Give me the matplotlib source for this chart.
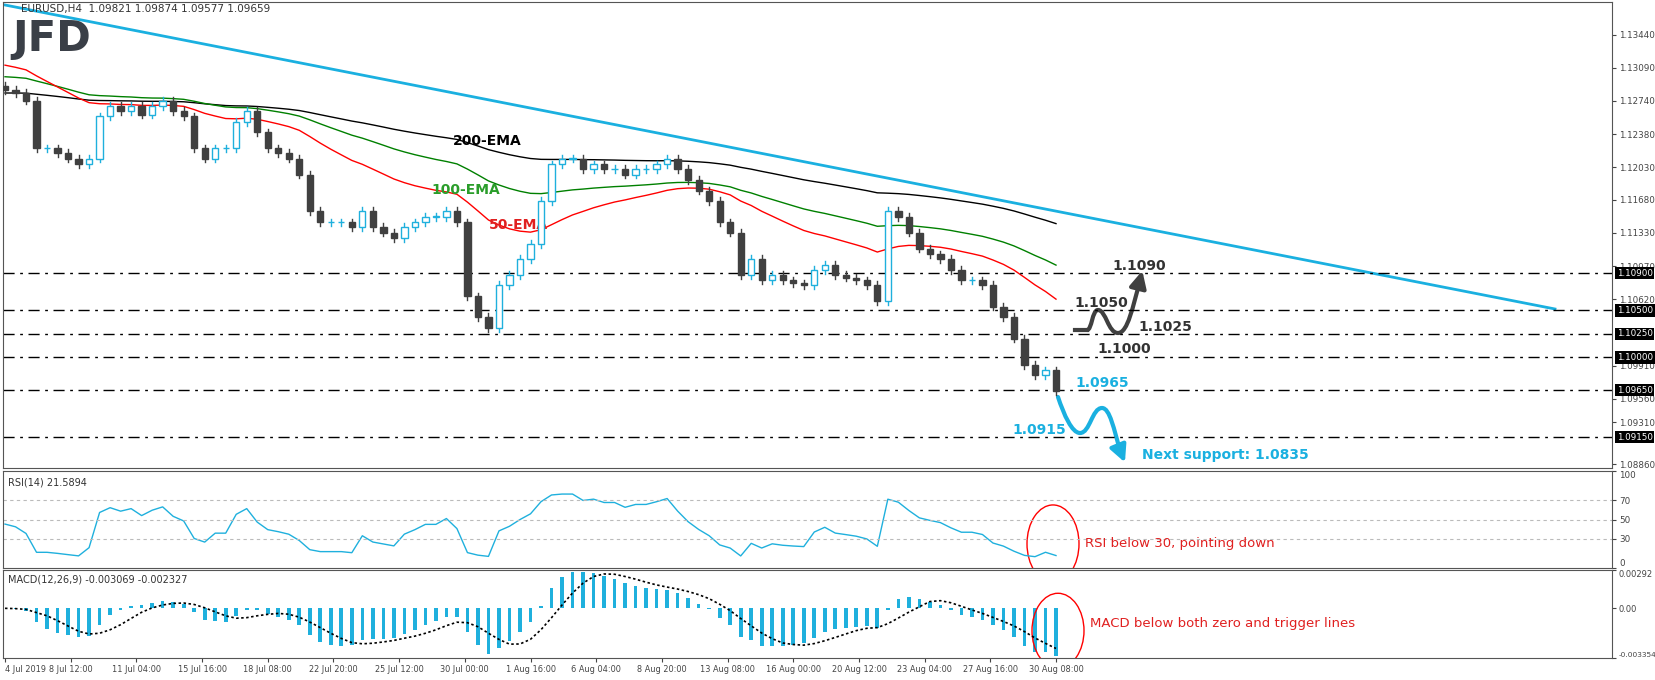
import numpy as np
import pandas as pd
import matplotlib
matplotlib.use('Agg')
import matplotlib.pyplot as plt
from matplotlib.patches import Rectangle, Ellipse, PathPatch
from matplotlib.path import Path

# H4 closes
closes = [1.1285, 1.1282, 1.1274, 1.1223, 1.1223, 1.1218, 1.1212, 1.1206, 1.1212, 1.1257,
          1.1268, 1.1263, 1.1268, 1.1259, 1.1268, 1.1274, 1.1263, 1.1257, 1.1223, 1.1212,
          1.1223, 1.1223, 1.1251, 1.1263, 1.1240, 1.1223, 1.1218, 1.1212, 1.1195, 1.1156,
          1.1144, 1.1144, 1.1144, 1.1139, 1.1156, 1.1139, 1.1133, 1.1127, 1.1139, 1.1144,
          1.1150, 1.1150, 1.1156, 1.1144, 1.1065, 1.1043, 1.1031, 1.1077, 1.1088, 1.1105,
          1.1121, 1.1167, 1.1206, 1.1212, 1.1212, 1.1201, 1.1206, 1.1201, 1.1201, 1.1195,
          1.1201, 1.1201, 1.1206, 1.1212, 1.1201, 1.1189, 1.1178, 1.1167, 1.1144, 1.1133,
          1.1088, 1.1105, 1.1082, 1.1088, 1.1082, 1.1079, 1.1077, 1.1093, 1.1099, 1.1088,
          1.1085, 1.1082, 1.1077, 1.1060, 1.1156, 1.1150, 1.1133, 1.1116, 1.1110, 1.1105,
          1.1093, 1.1082, 1.1082, 1.1077, 1.1054, 1.1043, 1.1020, 1.0992, 1.0981, 1.0986,
          1.0964]
first_open = 1.1290
ema_start = {25: 1.1314, 50: 1.1300, 100: 1.1282}
levels = [1.1090, 1.1050, 1.1025, 1.1000, 1.0965, 1.0915]
price_ticks = [1.13440, 1.13090, 1.12740, 1.12380, 1.12030, 1.11680, 1.11330, 1.10970,
               1.10620, 1.09910, 1.09560, 1.09310, 1.08860]
date_labels = ['4 Jul 2019', '8 Jul 12:00', '11 Jul 04:00', '15 Jul 16:00', '18 Jul 08:00',
               '22 Jul 20:00', '25 Jul 12:00', '30 Jul 00:00', '1 Aug 16:00', '6 Aug 04:00',
               '8 Aug 20:00', '13 Aug 08:00', '16 Aug 00:00', '20 Aug 12:00', '23 Aug 04:00',
               '27 Aug 16:00', '30 Aug 08:00']

c = np.array(closes)
o = np.concatenate([[first_open], c[:-1]])
n = len(c)
wick = 0.0004
hi = np.maximum(o, c) + wick
lo = np.minimum(o, c) - wick

def ema(x, span, start):
    a = 2.0 / (span + 1)
    out = []
    v = start
    for val in x:
        v = a * val + (1 - a) * v
        out.append(v)
    return np.array(out)

ema50 = ema(c, 25, ema_start[25])
ema100 = ema(c, 50, ema_start[50])
ema200 = ema(c, 100, ema_start[100])

# RSI with seeded averages
d = np.diff(np.concatenate([[first_open], c]))
au, ad = 0.0004, 0.0004
rsi = []
for v in d:
    au = (au * 6 + max(v, 0)) / 7
    ad = (ad * 6 + max(-v, 0)) / 7
    rsi.append(100 - 100 / (1 + au / ad))
rsi = np.array(rsi)
s = pd.Series(c)
macd = (s.ewm(span=6, adjust=False).mean() - s.ewm(span=13, adjust=False).mean()).values
sig = pd.Series(macd).rolling(5, min_periods=1).mean().values

# pixel helpers
sp = (1056 - 5) / (n - 1)
def px(x):
    return (x - 5) / sp
def py(y):
    return 1.1090 - (y - 273) * 0.0001067

fig = plt.figure(figsize=(16.55, 6.8), dpi=100)
W, H = 1655, 680
ax = fig.add_axes([3/W, 1-468/H, 1609/W, 466/H])
ax2 = fig.add_axes([3/W, 1-568/H, 1609/W, 97/H])
ax3 = fig.add_axes([3/W, 1-658/H, 1609/W, 88/H])
xl = (px(3), px(1612))
for a in (ax, ax2, ax3):
    a.set_xlim(*xl)
    a.yaxis.tick_right()
    a.tick_params(labelsize=6.3, colors='#444444', length=3, pad=2)
    for sdn in a.spines.values():
        sdn.set_color('#555555')

# candles
for i in range(n):
    bull = c[i] >= o[i]
    col = '#1fb0dd' if bull else '#404040'
    ax.plot([i, i], [lo[i], hi[i]], color=col, lw=1, zorder=3)
    ax.add_patch(Rectangle((i - 0.3, min(o[i], c[i])), 0.6, max(abs(c[i] - o[i]), 0.00005),
                           facecolor='white' if bull else col, edgecolor=col, lw=1, zorder=4))

x = np.arange(n)
ax.plot(x, ema200, color='black', lw=1)
ax.plot(x, ema100, color='green', lw=1)
ax.plot(x, ema50, color='red', lw=1)
ax.plot([px(5), px(1555)], [py(5), py(309)], color='#1ab0e0', lw=2)
for lv in levels:
    ax.axhline(lv, color='black', lw=1, ls=(0, (8, 4, 2, 4)))
    ax.text(1.003, lv, f'{lv:.5f}', transform=ax.get_yaxis_transform(), fontsize=6.3,
            color='white', va='center', ha='left', bbox=dict(fc='black', ec='none', pad=1.2))
ax.set_ylim(py(468), py(2))
ax.set_yticks(price_ticks)
ax.set_yticklabels([f'{t:.5f}' for t in price_ticks])
ax.set_xticks([])

ax.text(0.011, 0.995, 'EURUSD,H4  1.09821 1.09874 1.09577 1.09659', transform=ax.transAxes,
        fontsize=7.5, color='#333333', va='top')
ax.text(0.006, 0.965, 'JFD', transform=ax.transAxes, fontsize=30, fontweight='bold',
        color='#3a3f47', va='top')
ax.text(px(487), py(141), '200-EMA', fontsize=10, fontweight='bold', color='black', ha='center', va='center')
ax.text(px(466), py(190), '100-EMA', fontsize=10, fontweight='bold', color='#2a9d2a', ha='center', va='center')
ax.text(px(518), py(225), '50-EMA', fontsize=10, fontweight='bold', color='#e02020', ha='center', va='center')

# scenario arrows (smooth waves)
def wave(pts, color):
    verts = [(px(a), py(b)) for a, b in pts]
    codes = [Path.MOVETO] + [Path.CURVE4] * (len(verts) - 1)
    ax.add_patch(PathPatch(Path(verts, codes), fill=False, ec=color, lw=3, capstyle='round'))

ax.plot([px(1075), px(1087)], [py(330), py(330)], color='#404040', lw=3)
wave([(1087, 330), (1092, 330), (1092, 310), (1098, 310),
      (1106, 310), (1108, 333), (1118, 333),
      (1128, 333), (1133, 305), (1139, 285)], '#404040')
ax.annotate('', xy=(px(1143), py(268)), xytext=(px(1138), py(288)),
            arrowprops=dict(arrowstyle='-|>,head_width=0.5,head_length=1', color='#404040', lw=3))
wave([(1058, 397), (1064, 415), (1072, 433), (1080, 433),
      (1090, 433), (1092, 408), (1102, 408),
      (1110, 408), (1114, 430), (1120, 450)], '#1ab0e0')
ax.annotate('', xy=(px(1126), py(465)), xytext=(px(1119), py(448)),
            arrowprops=dict(arrowstyle='-|>,head_width=0.5,head_length=1', color='#1ab0e0', lw=3))
for t, xx, yy, cl in [('1.1090', 1139, 266, '#333333'), ('1.1050', 1101, 303, '#333333'),
                      ('1.1025', 1165, 327, '#333333'), ('1.1000', 1124, 349, '#333333'),
                      ('1.0965', 1102, 383, '#1ab0e0'), ('1.0915', 1039, 430, '#1ab0e0')]:
    ax.text(px(xx), py(yy), t, fontsize=10, fontweight='bold', color=cl, ha='center', va='center')
ax.text(px(1142), py(455), 'Next support: 1.0835', fontsize=10, fontweight='bold',
        color='#1ab0e0', ha='left', va='center')

# RSI
ax2.plot(x, rsi, color='#1fb0dd', lw=1)
for lv in (30, 50, 70):
    ax2.axhline(lv, color='#bbbbbb', lw=0.8, ls=(0, (3, 3)))
ax2.set_ylim(0, 100)
ax2.set_yticks([0, 30, 50, 70, 100])
ax2.set_xticks([])
ax2.text(0.003, 0.93, 'RSI(14) 21.5894', transform=ax2.transAxes, fontsize=7, color='#333333', va='top')
ax2.add_patch(Ellipse((px(1053), 25), 52 / sp, 80, fill=False, ec='red', lw=1))
ax2.text(px(1085), 25, 'RSI below 30, pointing down', color='#e02020', fontsize=9.5, va='center')

# MACD
ax3.bar(x, macd, width=0.35, color='#1fb0dd')
ax3.plot(x, sig, color='black', lw=1.2, ls=(0, (1.5, 1.5)))
lo_m, hi_m = macd.min() * 1.05, macd.max() * 1.05
ax3.set_ylim(lo_m, hi_m)
ax3.set_yticks([lo_m, 0, hi_m])
ax3.set_yticklabels(['-0.003354', '0.00', '0.00292'])
ax3.tick_params(axis='y', labelsize=6)
ax3.get_yticklabels()[0].set_va('bottom')
ax3.get_yticklabels()[0].set_fontsize(5.3)
ax3.get_yticklabels()[2].set_va('top')
ax3.text(0.003, 0.95, 'MACD(12,26,9) -0.003069 -0.002327', transform=ax3.transAxes, fontsize=7,
         color='#333333', va='top')
ax3.add_patch(Ellipse((px(1058), lo_m * 0.45), 52 / sp, (hi_m - lo_m) * 0.85, fill=False, ec='red', lw=1))
ax3.text(px(1090), lo_m * 0.3, 'MACD below both zero and trigger lines', color='#e02020',
         fontsize=9.5, va='center')
ax3.set_xticks(np.linspace(0, n - 1, len(date_labels)))
ax3.set_xticklabels(date_labels, fontsize=5.9)
ax3.get_xticklabels()[0].set_ha('left')
ax3.tick_params(axis='x', length=3, pad=2)
ax2.get_yticklabels()[-1].set_va('top')
ax2.get_yticklabels()[0].set_va('bottom')

fig.savefig('out.png', dpi=100, facecolor='white')
